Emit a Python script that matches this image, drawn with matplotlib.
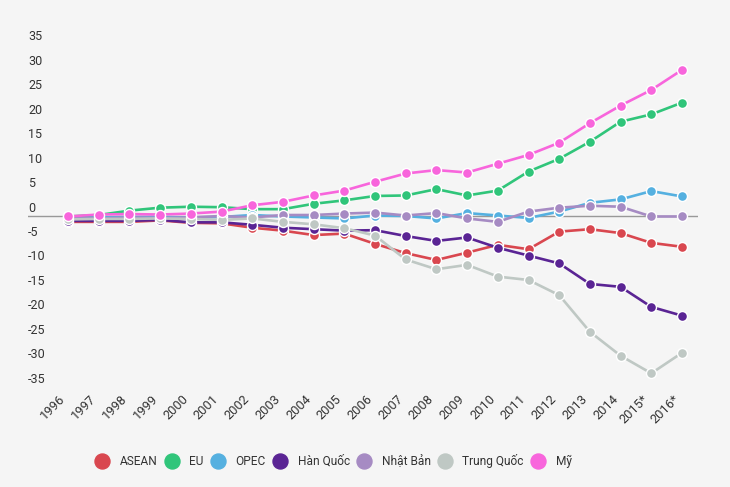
import matplotlib
matplotlib.use("Agg")
import matplotlib.pyplot as plt
from matplotlib.lines import Line2D
import matplotlib.transforms as mtransforms

plt.rcParams['font.family'] = ['Roboto', 'DejaVu Sans']

years = ['1996', '1997', '1998', '1999', '2000', '2001', '2002', '2003', '2004', '2005',
         '2006', '2007', '2008', '2009', '2010', '2011', '2012', '2013', '2014', '2015*', '2016*']

asean = [-1.2, -1.2, -1.2, -0.9, -1.4, -1.5, -2.4, -3.0, -3.9, -3.6,
         -5.7, -7.6, -9.0, -7.5, -5.9, -6.8, -3.2, -2.7, -3.5, -5.5, -6.3]
eu = [-0.1, 0.2, 1.1, 1.7, 1.9, 1.8, 1.4, 1.4, 2.5, 3.2,
      4.1, 4.2, 5.5, 4.2, 5.2, 9.1, 11.7, 15.2, 19.3, 20.8, 23.2]
opec = [-0.5, -0.3, -0.2, -0.2, -0.3, -0.2, 0.2, -0.1, -0.3, -0.5,
        0.1, 0.0, -0.5, 0.6, 0.1, -0.4, 0.9, 2.7, 3.4, 5.1, 4.0]
han_quoc = [-1.0, -1.0, -1.0, -0.8, -1.3, -1.3, -1.8, -2.4, -2.7, -3.0,
            -2.9, -4.1, -5.1, -4.4, -6.5, -8.1, -9.7, -13.9, -14.5, -18.6, -20.4]
nhat_ban = [-0.5, -0.5, -0.3, -0.4, -0.3, 0.0, -0.3, 0.2, 0.2, 0.5,
            0.7, 0.1, 0.6, -0.5, -1.2, 0.9, 1.7, 2.1, 1.9, -0.1, -0.1]
trung_quoc = [-0.7, -0.6, -0.6, -0.5, -0.6, -0.8, -0.5, -1.2, -1.7, -2.5,
              -4.0, -8.9, -10.9, -10.0, -12.4, -13.1, -16.2, -23.7, -28.6, -32.2, -28.0]
my = [-0.1, 0.3, 0.4, 0.3, 0.5, 0.9, 2.2, 2.9, 4.2, 5.2,
      7.0, 8.7, 9.4, 8.9, 10.7, 12.5, 15.0, 19.0, 22.6, 25.8, 29.9]

series_names = ['ASEAN', 'EU', 'OPEC', 'Hàn Quốc', 'Nhật Bản', 'Trung Quốc', 'Mỹ']
series_values = [asean, eu, opec, han_quoc, nhat_ban, trung_quoc, my]
colors = ['#d9474f', '#30c57a', '#55b0e0', '#5a2494', '#a68bc3', '#bfc8c4', '#f865dc']
y_ticks = [35, 30, 25, 20, 15, 10, 5, 0, -5, -10, -15, -20, -25, -30, -35]

bg = '#f5f5f5'
W, H = 730, 487
fig = plt.figure(figsize=(W / 100, H / 100), dpi=100, facecolor=bg)

left_px, right_px, top_px, bot_px = 28, 698, 40, 388
ax = fig.add_axes([left_px / W, 1 - bot_px / H, (right_px - left_px) / W, (bot_px - top_px) / H])
ax.set_facecolor(bg)
zero_px = 216
ppu = 4.886
ax.set_ylim((zero_px - bot_px) / ppu, (zero_px - top_px) / ppu)
x = list(range(len(years)))
x0_px, dx_px = 68, 30.7
ax.set_xlim((left_px - x0_px) / dx_px, (right_px - x0_px) / dx_px)

for s in ax.spines.values():
    s.set_visible(False)

ax.axhline(0, color='#999999', lw=1, zorder=1)

for i, (name, vals, c) in enumerate(zip(series_names, series_values, colors)):
    ax.plot(x, vals, color=c, lw=1.9, marker='o', markersize=7.2,
            markerfacecolor=c, markeredgecolor='white', markeredgewidth=1.0,
            zorder=3 + i, solid_capstyle='round')

# y labels above gridline
ax.set_yticks([])
off = mtransforms.offset_copy(ax.get_yaxis_transform(), fig=fig, x=0, y=8, units='dots')
for v in y_ticks:
    ax.text(0, v, str(v), transform=off, ha='left', va='center',
            fontsize=9, color='#333333')

ax.set_xticks(x)
ax.set_xticklabels(years, rotation=45, ha='right', va='top', fontsize=9.3, color='#333333')
ax.tick_params(axis='x', length=0, pad=3)

handles = [Line2D([0], [0], marker='o', linestyle='none', markersize=10.8,
                  markerfacecolor=c, markeredgecolor=c) for c in colors]
fig.legend(handles, series_names, loc='center', ncol=7,
           bbox_to_anchor=(334 / W, 1 - 461 / H), frameon=False,
           fontsize=8.6, handlelength=1.0, handletextpad=0.95, columnspacing=0.72,
           labelcolor='#333333')

fig.savefig('out.png', dpi=100, facecolor=bg)
